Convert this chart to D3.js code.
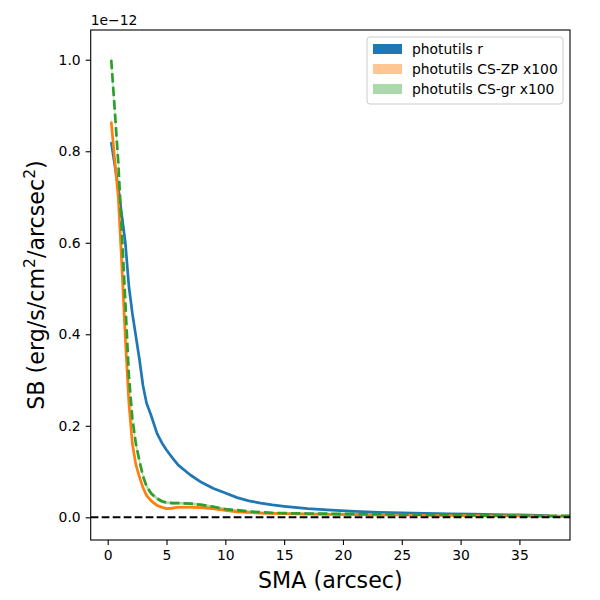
<!DOCTYPE html>
<html>
<head>
<meta charset="utf-8">
<script src="https://cdn.jsdelivr.net/npm/d3@7"></script>
<style>
  body { margin: 0; background: #fff; }
  text { font-family: "DejaVu Sans", sans-serif; }
</style>
</head>
<body>
<div id="chart"></div>
<script>
// Semi-major axis samples (arcsec)
const sma = [0.3, 0.6, 0.9, 1.2, 1.5, 1.8, 2.1, 2.4, 2.7, 3.0, 3.3, 3.7, 4.2, 4.6, 5.0, 5.5,
  6.0, 7.0, 8.0, 9.0, 10, 11, 12, 13, 14, 15, 17, 19, 21, 23, 25, 27, 29, 31, 33, 35, 37.5, 39.3];

// surface brightness, units of 1e-12 (null = no measurement)
const sbR = [0.82, 0.77, 0.72, 0.66, 0.60, 0.505, 0.445, 0.395, 0.345, 0.288, 0.25, 0.222, 0.183, 0.163,
  0.147, 0.13, 0.114, 0.093, 0.076, 0.063, 0.053, 0.043, 0.036, 0.031, 0.027, 0.024, 0.019, 0.0155,
  0.013, 0.011, 0.0095, 0.0085, 0.0075, 0.0068, 0.006, 0.0052, 0.004, null];
const sbZP = [0.865, 0.78, 0.70, 0.55, 0.39, 0.25, 0.16, 0.115, 0.088, 0.065, 0.048, 0.036, 0.026, 0.022,
  0.019, 0.02, 0.022, 0.022, 0.021, 0.019, 0.015, 0.012, 0.0105, 0.009, 0.0085, 0.008, 0.007, 0.0065,
  0.006, 0.0055, 0.005, 0.0045, 0.004, 0.0035, 0.003, 0.003, 0.0025, 0.0025];
const sbGR = [1.0, 0.89, 0.775, 0.625, 0.47, 0.31, 0.215, 0.16, 0.123, 0.09, 0.068, 0.052, 0.041, 0.035,
  0.032, 0.031, 0.031, 0.03, 0.027, 0.023, 0.018, 0.0155, 0.013, 0.011, 0.0098, 0.009, 0.0083, 0.0078,
  0.0073, 0.007, 0.0062, 0.0055, 0.005, 0.0045, 0.004, 0.0035, 0.003, 0.003];

// uncertainties used for the shaded bands
const errR = [0.004, 0.004, 0.003, 0.003, 0.003, 0.003, 0.002, 0.002, 0.002, 0.002, 0.002, 0.001, 0.001, 0.001,
  0.001, 0.001, 0.001, 0.001, 0.001, 0.001, 0.001, 0.001, 0.001, 0.001, 0.001, 0.001, 0.001, 0.001,
  0.001, 0.001, 0.001, 0.001, 0.001, 0.001, 0.001, 0.001, 0.001, null];
const errZP = [0.013, 0.012, 0.011, 0.01, 0.009, 0.008, 0.007, 0.006, 0.005, 0.005, 0.004, 0.004, 0.003, 0.003,
  0.003, 0.003, 0.003, 0.003, 0.003, 0.003, 0.002, 0.002, 0.002, 0.002, 0.002, 0.002, 0.002, 0.002,
  0.002, 0.002, 0.002, 0.002, 0.002, 0.002, 0.002, 0.002, 0.002, 0.002];
const errGR = [0.014, 0.013, 0.012, 0.011, 0.01, 0.009, 0.008, 0.007, 0.006, 0.005, 0.005, 0.004, 0.004, 0.004,
  0.003, 0.003, 0.003, 0.003, 0.003, 0.003, 0.003, 0.002, 0.002, 0.002, 0.002, 0.002, 0.002, 0.002,
  0.002, 0.002, 0.002, 0.002, 0.002, 0.002, 0.002, 0.002, 0.002, 0.002];

const xTicks = [0, 5, 10, 15, 20, 25, 30, 35];
const yTicks = [0.0, 0.2, 0.4, 0.6, 0.8, 1.0];

const seriesInfo = [
  {label: "photutils r", values: sbR, err: errR, color: "#1f77b4", bandAlpha: 1, dash: null},
  {label: "photutils CS-ZP x100", values: sbZP, err: errZP, color: "#ff7f0e", bandAlpha: 0.45, dash: null},
  {label: "photutils CS-gr x100", values: sbGR, err: errGR, color: "#2ca02c", bandAlpha: 0.4, dash: "9.5,4"}
];

const width = 600, height = 600;
const margin = {top: 30, right: 30, bottom: 60, left: 90.7};

const x = d3.scaleLinear()
    .domain([-1.445, 39.3])
    .range([margin.left, width - margin.right]);
const y = d3.scaleLinear()
    .domain([-0.0496, 1.065])
    .range([height - margin.bottom, margin.top]);

const svg = d3.select("#chart").append("svg")
    .attr("width", width)
    .attr("height", height);

svg.append("defs").append("clipPath").attr("id", "clip")
  .append("rect")
    .attr("x", margin.left).attr("y", margin.top)
    .attr("width", width - margin.left - margin.right)
    .attr("height", height - margin.top - margin.bottom);

const plot = svg.append("g").attr("clip-path", "url(#clip)");

// shaded bands
seriesInfo.forEach(s => {
  const pts = sma.map((d, i) => ({x: d, v: s.values[i], e: s.err[i]}));
  const area = d3.area()
      .defined(d => d.v != null)
      .x(d => x(d.x))
      .y0(d => y(d.v - d.e))
      .y1(d => y(d.v + d.e));
  plot.append("path")
      .datum(pts)
      .attr("fill", s.color)
      .attr("fill-opacity", s.bandAlpha)
      .attr("d", area);
});

// profile lines
seriesInfo.forEach(s => {
  const pts = sma.map((d, i) => ({x: d, v: s.values[i]}));
  const line = d3.line()
      .defined(d => d.v != null)
      .x(d => x(d.x))
      .y(d => y(d.v));
  plot.append("path")
      .datum(pts)
      .attr("fill", "none")
      .attr("stroke", s.color)
      .attr("stroke-width", 2.7)
      .attr("stroke-linejoin", "round")
      .attr("stroke-dasharray", s.dash)
      .attr("d", line);
});

// zero line
plot.append("line")
    .attr("x1", margin.left).attr("x2", width - margin.right)
    .attr("y1", y(0)).attr("y2", y(0))
    .attr("stroke", "black")
    .attr("stroke-width", 2)
    .attr("stroke-dasharray", "7.7,3.3");

// axes
const xAxis = svg.append("g")
    .attr("transform", `translate(0,${height - margin.bottom})`)
    .call(d3.axisBottom(x).tickValues(xTicks).tickFormat(d3.format("d")).tickSize(5).tickPadding(5));
const yAxis = svg.append("g")
    .attr("transform", `translate(${margin.left},0)`)
    .call(d3.axisLeft(y).tickValues(yTicks).tickFormat(d3.format(".1f")).tickSize(5).tickPadding(5));
[xAxis, yAxis].forEach(a => {
  a.select(".domain").remove();
  a.selectAll("text").style("font-size", "13.9px").style("font-family", "DejaVu Sans").attr("fill", "#000");
  a.selectAll("line").attr("stroke", "#000").attr("stroke-width", 1.1);
});

// frame
svg.append("rect")
    .attr("x", margin.left).attr("y", margin.top)
    .attr("width", width - margin.left - margin.right)
    .attr("height", height - margin.top - margin.bottom)
    .attr("fill", "none")
    .attr("stroke", "#000")
    .attr("stroke-width", 1.1);

// offset text
svg.append("text")
    .attr("x", margin.left)
    .attr("y", 25)
    .style("font-size", "13.9px")
    .text("1e\u221212");

// axis labels
svg.append("text")
    .attr("x", (margin.left + width - margin.right) / 2)
    .attr("y", 588)
    .attr("text-anchor", "middle")
    .style("font-size", "22.2px")
    .text("SMA (arcsec)");

const yl = svg.append("text")
    .attr("transform", `translate(44,${(margin.top + height - margin.bottom) / 2}) rotate(-90)`)
    .attr("text-anchor", "middle")
    .style("font-size", "22.2px");
yl.append("tspan").text("SB (erg/s/cm");
yl.append("tspan").attr("baseline-shift", "super").style("font-size", "15.5px").text("2");
yl.append("tspan").text("/arcsec");
yl.append("tspan").attr("baseline-shift", "super").style("font-size", "15.5px").text("2");
yl.append("tspan").text(")");

// legend
const lg = svg.append("g").attr("transform", "translate(367,37)");
lg.append("rect")
    .attr("width", 196).attr("height", 67)
    .attr("rx", 3)
    .attr("fill", "#fff").attr("fill-opacity", 0.8)
    .attr("stroke", "#ccc");
seriesInfo.forEach((s, i) => {
  const row = lg.append("g").attr("transform", `translate(0,${12 + i * 20})`);
  row.append("rect")
      .attr("x", 6).attr("y", -5)
      .attr("width", 29).attr("height", 10)
      .attr("fill", s.color)
      .attr("fill-opacity", s.bandAlpha);
  row.append("text")
      .attr("x", 45).attr("y", 5)
      .style("font-size", "13.9px")
      .text(s.label);
});
</script>
</body>
</html>
